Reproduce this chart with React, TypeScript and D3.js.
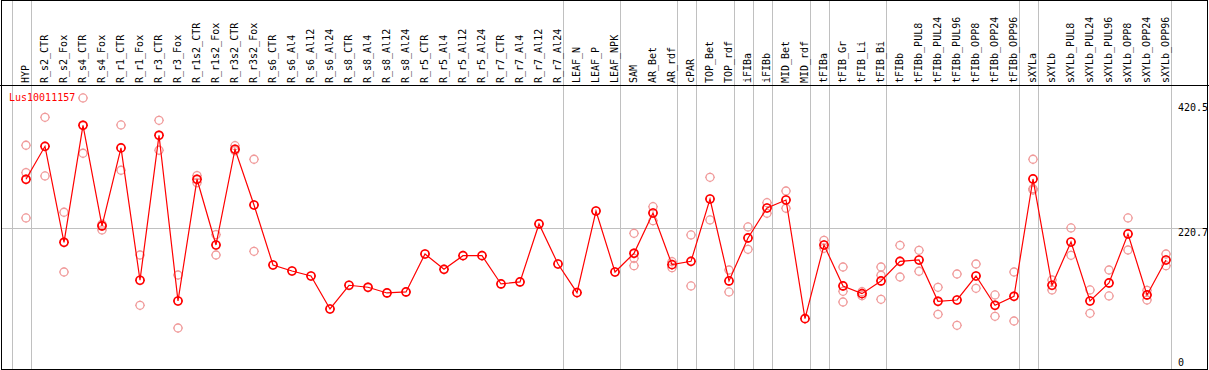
import React from "react";
import * as d3 from "d3";

const categories = [
  "HYP", "R_s2_CTR", "R_s2_Fox", "R_s4_CTR", "R_s4_Fox", "R_r1_CTR", "R_r1_Fox",
  "R_r3_CTR", "R_r3_Fox", "R_r1s2_CTR", "R_r1s2_Fox", "R_r3s2_CTR", "R_r3s2_Fox",
  "R_s6_CTR", "R_s6_Al4", "R_s6_Al12", "R_s6_Al24", "R_s8_CTR", "R_s8_Al4",
  "R_s8_Al12", "R_s8_Al24", "R_r5_CTR", "R_r5_Al4", "R_r5_Al12", "R_r5_Al24",
  "R_r7_CTR", "R_r7_Al4", "R_r7_Al12", "R_r7_Al24", "LEAF_N", "LEAF_P", "LEAF_NPK",
  "SAM", "AR_Bet", "AR_rdf", "cPAR", "TOP_Bet", "TOP_rdf", "iFIBa", "iFIBb",
  "MID_Bet", "MID_rdf", "tFIBa", "tFIB_Gr", "tFIB_Li", "tFIB_Bi", "tFIBb",
  "tFIBb_PUL8", "tFIBb_PUL24", "tFIBb_PUL96", "tFIBb_OPP8", "tFIBb_OPP24",
  "tFIBb_OPP96", "sXYLa", "sXYLb", "sXYLb_PUL8", "sXYLb_PUL24", "sXYLb_PUL96",
  "sXYLb_OPP8", "sXYLb_OPP24", "sXYLb_OPP96",
];

// tissue groups, separated by grey lines
const groupSizes = [1, 28, 3, 3, 1, 2, 1, 1, 2, 1, 3, 7, 1, 7];

const seriesName = "Lus10011157";

const means = [
  298.1, 350.8, 197.4, 384.4, 223.5, 348.2, 136.7, 368.4, 103.6, 298.1, 193.1,
  346.1, 257.0, 161.1, 151.5, 143.5, 90.8, 128.7, 125.5, 116.4, 118.0, 178.7,
  154.2, 176.0, 176.0, 130.8, 134.0, 226.7, 162.7, 116.9, 247.4, 149.9, 179.8,
  244.2, 161.6, 167.0, 266.6, 135.6, 204.3, 252.2, 265.0, 75.3, 193.1, 127.6,
  115.3, 135.6, 167.0, 169.1, 103.1, 105.2, 143.5, 96.7, 111.1, 298.6, 128.7,
  197.9, 103.6, 132.4, 210.7, 113.2, 169.1,
];

const replicates = [
  [352.5, 308.7, 236.3], [397.2, 303.4], [245.4, 149.9], [428.1, 339.7],
  [226.2, 217.1], [384.9, 312.5], [177.1, 96.7], [392.4, 344.5], [145.1, 60.4],
  [303.9, 292.7], [209.6, 177.1], [351.8, 343.8], [330.1, 183.0],
  [], [], [], [], [], [], [], [], [], [], [], [], [], [], [], [], [], [], [],
  [211.8, 171.8, 160.0], [254.3, 231.9], [166.4, 156.8], [209.1, 127.6],
  [301.3, 233.1], [153.1, 118.0], [221.9, 186.2], [260.7, 243.8], [279.4, 251.8],
  [], [200.6, 187.8], [157.9, 119.1, 102.0], [118.4, 112.1],
  [157.9, 144.7, 106.3], [192.6, 141.9], [184.6, 151.1], [125.5, 82.3],
  [146.7, 64.7], [162.7, 123.9], [113.2, 79.1], [149.9, 71.6],
  [330.1, 283.1, 281.0], [137.1, 121.2], [220.3, 176.6], [121.2, 83.9],
  [153.1, 111.6], [236.3, 185.1], [120.7, 105.2], [178.7, 160.0],
];

const axisTicks = [420.5, 220.7, 0];

const W = 1209, H = 370;
const headerH = 85;
const font = "'DejaVu Sans Mono', monospace";

function Marker({cx, cy, color, sw}) {
  const r = 4, t = 1;
  return (
    <g stroke={color} fill="none">
      <circle cx={cx} cy={cy} r={r} strokeWidth={sw}/>
      <g strokeWidth={1}>
        <line x1={cx} x2={cx} y1={cy - r} y2={cy - r - t}/>
        <line x1={cx} x2={cx} y1={cy + r} y2={cy + r + t}/>
        <line x1={cx - r} x2={cx - r - t} y1={cy} y2={cy}/>
        <line x1={cx + r} x2={cx + r + t} y1={cy} y2={cy}/>
      </g>
    </g>
  );
}

export default function App() {
  const x = d3.scalePoint().domain(categories).range([26, 1166]);
  const step = x.step();
  const y = d3.scaleLinear().domain([0, 420.5]).range([365.8, 102.7]);

  // boundaries after each group (plus one before the first column)
  const bounds = [x(categories[0]) + 4.5 - step];
  let acc = 0;
  groupSizes.forEach(n => {
    acc += n;
    bounds.push(x(categories[acc - 1]) + 4.5);
  });

  const line = d3.line().x((d, i) => x(categories[i])).y(d => y(d));

  return (
    <svg width={W} height={H} style={{position: "absolute", left: 0, top: 0, background: "#fff"}}
         fontFamily={font} fontSize={10}>
      {bounds.map((b, i) => (
        <line key={i} x1={Math.round(b) + 0.5} x2={Math.round(b) + 0.5} y1={0} y2={H}
              stroke="#c0c0c0" strokeWidth={1}/>
      ))}
      <line x1={1} x2={1207} y1={Math.round(y(220.7)) + 0.5} y2={Math.round(y(220.7)) + 0.5}
            stroke="#c0c0c0" strokeWidth={1}/>

      {categories.map(c => (
        <text key={c} transform={`translate(${x(c) + 2.8},${headerH - 2}) rotate(-90)`}
              fill="#000">{c}</text>
      ))}

      <text x={9} y={100.5} fill="#ff0000">{seriesName}</text>

      {axisTicks.map(v => (
        <text key={v} x={1178} y={Math.min(y(v), 358) + 8} fill="#000">{v}</text>
      ))}

      {replicates.map((reps, i) => reps.map((v, j) => (
        <Marker key={i + "-" + j} cx={x(categories[i])} cy={y(v)} color="#f09a9a" sw={1.3}/>
      )))}

      <path d={line(means)} fill="none" stroke="#ff0000" strokeWidth={1.2}/>

      {means.map((v, i) => (
        <Marker key={i} cx={x(categories[i])} cy={y(v)} color="#ff0000" sw={1.7}/>
      ))}

      <line x1={0} x2={W} y1={headerH + 0.5} y2={headerH + 0.5} stroke="#000"/>
      <rect x={1.5} y={0.5} width={1206} height={369} fill="none" stroke="#000"/>
    </svg>
  );
}
